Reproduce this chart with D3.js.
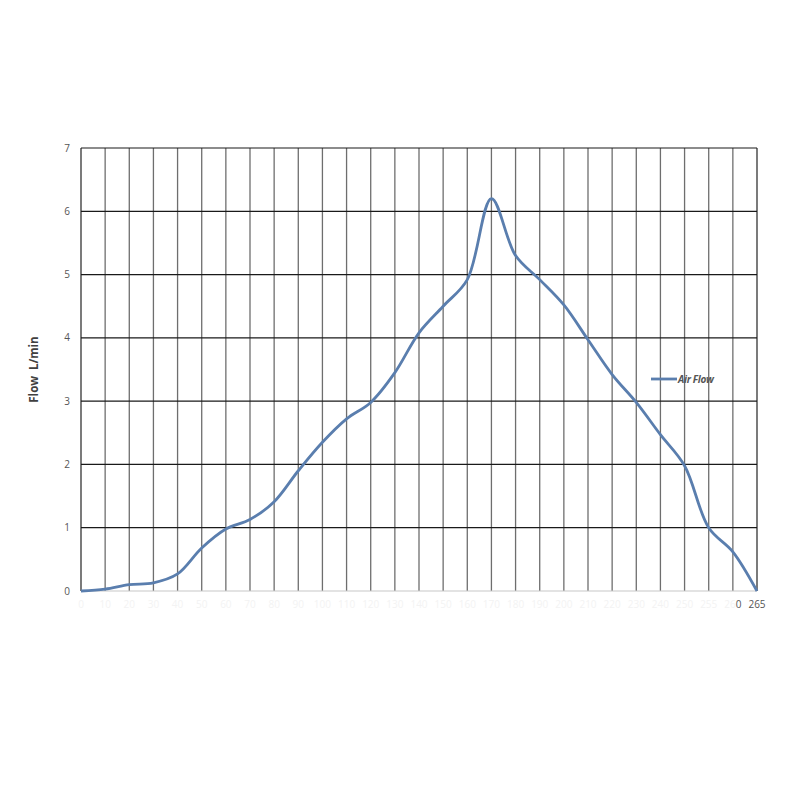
<!DOCTYPE html>
<html>
<head>
<meta charset="utf-8">
<script src="https://cdn.jsdelivr.net/npm/d3@7"></script>
<style>
  html, body { margin: 0; padding: 0; background: #fff; }
  svg { display: block; font-family: "Open Sans", "Liberation Sans", sans-serif; }
</style>
</head>
<body>
<svg id="chart" width="800" height="800"></svg>
<script>
// ---- data ----
const xLabels = ["0","10","20","30","40","50","60","70","80","90","100","110","120","130","140",
                 "150","160","170","180","190","200","210","220","230","240","250","255","260","265"];
const airFlow = [0, 0.03, 0.1, 0.13, 0.27, 0.68, 0.98, 1.13, 1.41, 1.9, 2.35, 2.72, 2.98, 3.45, 4.08,
                 4.5, 4.92, 6.2, 5.3, 4.92, 4.52, 3.97, 3.42, 2.98, 2.47, 1.98, 1.0, 0.62, 0];
const yTicks = [0, 1, 2, 3, 4, 5, 6, 7];
const seriesName = "Air Flow";
const yTitle = "Flow  L/min";

// ---- layout ----
const svg = d3.select("#chart");
const pLeft = 81, pRight = 757, pTop = 148, pBottom = 591;

const x = d3.scalePoint().domain(d3.range(xLabels.length)).range([pLeft, pRight]);
const y = d3.scaleLinear().domain([0, 7]).range([pBottom, pTop]);

// vertical grid lines
svg.append("g").selectAll("line").data(d3.range(xLabels.length)).join("line")
  .attr("x1", d => x(d)).attr("x2", d => x(d))
  .attr("y1", pTop).attr("y2", pBottom)
  .attr("stroke", d => (d === 0 || d === xLabels.length - 1) ? "#333" : "#6e6e6e")
  .attr("stroke-width", 1.3);

// horizontal grid lines
svg.append("g").selectAll("line").data(yTicks).join("line")
  .attr("x1", pLeft).attr("x2", pRight)
  .attr("y1", d => y(d)).attr("y2", d => y(d))
  .attr("stroke", d => d === 0 ? "#c8c8c8" : "#1a1a1a")
  .attr("stroke-width", 1.2);

// y axis labels
svg.append("g").selectAll("text").data(yTicks).join("text")
  .attr("x", 67).attr("y", d => y(d) + 3.5)
  .attr("text-anchor", "middle")
  .attr("font-size", 10).attr("fill", "#555")
  .text(d => d);

// x axis labels (washed out by a watermark in the reference, only the right end is legible)
const n = xLabels.length;
const xl = svg.append("g").selectAll("text").data(xLabels).join("text")
  .attr("x", (d, i) => x(i)).attr("y", 608)
  .attr("text-anchor", "middle")
  .attr("font-size", 10);
xl.each(function(d, i) {
  const t = d3.select(this);
  if (i === n - 1) {
    t.append("tspan").attr("fill", "#555").text(d);
  } else if (i === n - 2) {
    t.append("tspan").attr("fill", "#f3f3f3").text(d.slice(0, -1));
    t.append("tspan").attr("fill", "#555").text(d.slice(-1));
  } else {
    t.append("tspan").attr("fill", "#f3f3f3").text(d);
  }
});

// y title
svg.append("text")
  .attr("transform", `translate(38,${(pTop + pBottom) / 2}) rotate(-90)`)
  .attr("text-anchor", "middle")
  .style("white-space", "pre")
  .attr("font-size", 11.5).attr("font-weight", "bold").attr("fill", "#404040")
  .text(yTitle);

// line
const line = d3.line()
  .x((d, i) => x(i)).y(d => y(d))
  .curve(d3.curveCatmullRom.alpha(0.5));

svg.append("path").datum(airFlow)
  .attr("d", line)
  .attr("fill", "none")
  .attr("stroke", "#5a7eae")
  .attr("stroke-width", 2.8)
  .attr("stroke-linejoin", "round");

// legend
svg.append("line").attr("x1", 651).attr("x2", 677).attr("y1", 379).attr("y2", 379)
  .attr("stroke", "#5a7eae").attr("stroke-width", 2.8);
svg.append("text").attr("x", 678).attr("y", 383)
  .attr("font-size", 10).attr("font-weight", "bold").attr("font-style", "italic")
  .attr("fill", "#555").attr("letter-spacing", -0.3)
  .text(seriesName);
</script>
</body>
</html>
